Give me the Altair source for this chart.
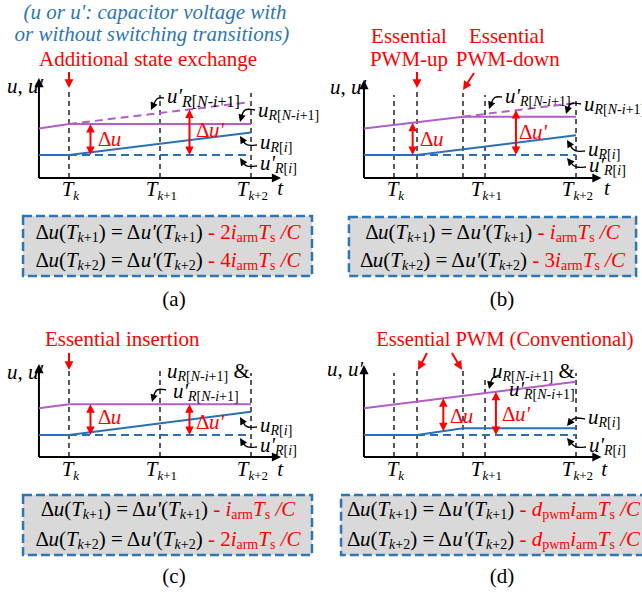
import math
import altair as alt
import pandas as pd

# ---------------- data (t in switching periods from T_k, v in voltage units) ----------------
T_TICKS = [0.0, 1.0, 2.0]
T_SUBS = ["k", "k+1", "k+2"]
ORIGIN_T = -0.33

# (a) additional state exchange
A_U_T = [-0.33, 0.0, 2.0]
A_U_V = [0.0, 0.0, 2.25]          # u_R[i]
A_UD_T = [0.0, 2.0]
A_UD_V = [0.0, 0.0]               # u'_R[i]
A_W_T = [-0.33, 0.0, 2.0]
A_W_V = [2.65, 3.1, 3.1]          # u_R[N-i+1]
A_WD_T = [0.0, 2.0]
A_WD_V = [3.1, 5.3]               # u'_R[N-i+1]
A_MARK_T = [0.0, 1.0, 2.0]
A_MARK_TOP = [6.7, 6.0, 6.2]
A_DU = [0.236, 0.0, 3.1]
A_DUP = [1.324, 0.0, 4.55]
A_COEF = ["2", "4"]

# (b) essential PWM-up / PWM-down
B_U_T = [-0.33, 0.253, 2.0]
B_U_V = [0.0, 0.0, 1.97]
B_UD_T = [0.253, 2.0]
B_UD_V = [0.0, 0.0]
B_W_T = [-0.33, 0.758, 2.0]
B_W_V = [2.65, 3.83, 3.83]
B_WD_T = [0.758, 2.0]
B_WD_V = [3.83, 5.2]
B_MARK_T = [0.0, 0.253, 0.758, 1.0, 2.0]
B_MARK_TOP = [6.0, 6.5, 6.2, 6.0, 5.6]
B_DU = [0.205, 0.0, 3.23]
B_DUP = [1.34, 0.0, 4.5]
B_COEF = ["", "3"]

# (c) essential insertion
C_U_T = [-0.33, 0.0, 2.0]
C_U_V = [0.0, 0.0, 2.33]
C_UD_T = [0.0, 2.0]
C_UD_V = [0.0, 0.0]
C_W_T = [-0.33, 0.0, 2.0]
C_W_V = [2.67, 3.07, 3.07]
C_MARK_T = [0.0, 1.0, 2.0]
C_MARK_TOP = [6.5, 6.8, 6.2]
C_DU = [0.236, 0.0, 3.07]
C_DUP = [1.324, 0.0, 3.07]
C_COEF = ["", "2"]

# (d) essential PWM (conventional)
D_U_T = [-0.33, 0.253, 0.758, 2.0]
D_U_V = [0.0, 0.0, 0.67, 0.67]
D_UD_T = [0.253, 2.0]
D_UD_V = [0.0, 0.0]
D_W_T = [-0.33, 2.0]
D_W_V = [2.67, 5.33]
D_MARK_T = [0.0, 0.253, 0.758, 1.0, 2.0]
D_MARK_TOP = [6.2, 6.5, 6.5, 5.7, 6.2]
D_DU = [0.542, 0.38, 3.67]
D_DUP = [1.12, 0.0, 4.33]

# ---------------- style ----------------
FONT = "Liberation Serif"
RED = "#FF0000"
CAPBLUE = "#2E75B6"
BLUE = "#2A70B8"
PURPLE = "#B25EC8"
BLACK = "#000000"
GREY = "#D9D9D9"
PX_T = 91.0
PX_V = 10.0
MAIN = 21
SUB = 14
TSUB = 13
SUBDY = 5
TSUBDY = 6
LSUBDY = 4.5
HEAD = "M0,0L0.75,1.5L-0.75,1.5Z"

REG = {' ': 250, '(': 333, ')': 333, '+': 564, ',': 250, '-': 333, '.': 250, '/': 278, ':': 278,
       '=': 564, '[': 333, ']': 333, '&': 778, "'": 180, 'Δ': 612,
       'A': 722, 'C': 667, 'E': 611, 'M': 889, 'N': 722, 'P': 556, 'R': 667, 'T': 611, 'W': 944,
       'a': 444, 'b': 500, 'c': 444, 'd': 500, 'e': 444, 'f': 333, 'g': 500, 'h': 500, 'i': 278,
       'k': 500, 'l': 278, 'm': 778, 'n': 500, 'o': 500, 'p': 500, 'r': 333, 's': 389, 't': 278,
       'u': 500, 'v': 500, 'w': 722, 'x': 500, 'y': 500}
ITA = {' ': 250, '(': 333, ')': 333, '+': 675, ',': 250, '-': 333, '/': 278, ':': 333, '=': 675,
       '[': 389, ']': 389, "'": 214, 'Δ': 612, 'C': 667, 'N': 667, 'R': 611, 'T': 556,
       'a': 500, 'b': 500, 'c': 444, 'd': 500, 'e': 444, 'g': 500, 'h': 500, 'i': 278, 'k': 444,
       'l': 278, 'm': 722, 'n': 500, 'o': 500, 'p': 500, 'r': 389, 's': 389, 't': 278, 'u': 500,
       'v': 444, 'w': 667, 'x': 444, 'y': 444}
for _d in "0123456789":
    REG[_d] = 500
    ITA[_d] = 500


def text_width(s, italic, size):
    tab = ITA if italic else REG
    return sum(tab.get(ch, 500) for ch in s) / 1000.0 * size


class Panel:
    def __init__(self, tdom, vdom, width, height, clip=False):
        self.tdom, self.vdom, self.width, self.height, self.clip = tdom, vdom, width, height, clip
        self.lines, self.curves, self.heads, self.texts, self.boxes = [], [], [], [], []
        self.n = 0

    def polyline(self, ts, vs, color, width, kind="solid"):
        self.n += 1
        for i, (t, v) in enumerate(zip(ts, vs)):
            self.lines.append({"t": t, "v": v, "id": self.n, "o": i, "color": color, "w": width, "kind": kind})

    def head(self, t, v, dx, dy, color, size):
        ang = math.degrees(math.atan2(dx, -dy)) % 360
        self.heads.append({"t": t, "v": v, "angle": ang, "color": color, "size": size})

    def arrow(self, t0, v0, t1, v1, color, width, size, double=False):
        dx = (t1 - t0) * PX_T
        dy = -(v1 - v0) * PX_V
        L = math.hypot(dx, dy)
        ux, uy = dx / L, dy / L
        back = 0.7 * 0.75 * math.sqrt(size)
        st, sv = t0, v0
        if double:
            st, sv = t0 + ux * back / PX_T, v0 - uy * back / PX_V
            self.head(t0, v0, -dx, -dy, color, size)
        et, ev = t1 - ux * back / PX_T, v1 + uy * back / PX_V
        self.polyline([st, et], [sv, ev], color, width)
        self.head(t1, v1, dx, dy, color, size)

    def hook(self, p0, p1, p2, color=BLACK, width=1.4, size=100):
        dx = (p2[0] - p1[0]) * PX_T
        dy = -(p2[1] - p1[1]) * PX_V
        L = math.hypot(dx, dy)
        ux, uy = dx / L, dy / L
        back = 0.7 * 0.75 * math.sqrt(size)
        e = (p2[0] - ux * back / PX_T, p2[1] + uy * back / PX_V)
        self.n += 1
        for i, (t, v) in enumerate([p0, p1, e]):
            self.curves.append({"t": t, "v": v, "id": self.n, "o": i, "color": color, "w": width})
        self.head(p2[0], p2[1], dx, dy, color, size)

    def runs(self, t, v, runs, align="left"):
        widths = [text_width(r[0], r[1], r[2]) for r in runs]
        total = sum(widths)
        x = {"left": 0.0, "center": -total / 2, "right": -total}[align]
        for r, w in zip(runs, widths):
            s, it, size, color, dy = r
            lead = len(s) - len(s.lstrip(" "))
            body = s.strip(" ")
            if body:
                off = text_width(" " * lead, it, size)
                self.texts.append({"t": t + (x + off) / PX_T, "v": v - dy / PX_V, "text": body,
                                   "size": size, "color": color, "it": it})
            x += w

    def box(self, t0, t1, v0, v1):
        self.boxes.append({"t": t0, "t2": t1, "v": v0, "v2": v1})

    def chart(self):
        def X():
            return alt.X("t:Q", scale=alt.Scale(domain=self.tdom, nice=False, zero=False), axis=None)

        def Y():
            return alt.Y("v:Q", scale=alt.Scale(domain=self.vdom, nice=False, zero=False), axis=None)

        layers = []
        if self.boxes:
            layers.append(alt.Chart(pd.DataFrame(self.boxes)).mark_rect(
                fill=GREY, stroke=CAPBLUE, strokeWidth=2.5, strokeDash=[9, 4], clip=self.clip
            ).encode(x=X(), x2="t2", y=Y(), y2="v2"))
        ldf = pd.DataFrame(self.lines)
        for kind, dash in [("grid", [5, 4]), ("dash", [8, 5]), ("solid", None)]:
            sub = ldf[ldf["kind"] == kind]
            if len(sub) == 0:
                continue
            mk = dict(clip=self.clip, strokeCap="butt")
            if dash:
                mk["strokeDash"] = dash
            layers.append(alt.Chart(sub).mark_line(**mk).encode(
                x=X(), y=Y(), detail="id:N", order="o:Q",
                color=alt.Color("color:N", scale=None),
                strokeWidth=alt.StrokeWidth("w:Q", scale=None)))
        if self.curves:
            layers.append(alt.Chart(pd.DataFrame(self.curves)).mark_line(
                interpolate="basis", clip=self.clip).encode(
                x=X(), y=Y(), detail="id:N", order="o:Q",
                color=alt.Color("color:N", scale=None),
                strokeWidth=alt.StrokeWidth("w:Q", scale=None)))
        layers.append(alt.Chart(pd.DataFrame(self.heads)).mark_point(
            shape=HEAD, filled=True, opacity=1, strokeWidth=0, clip=self.clip).encode(
            x=X(), y=Y(), angle=alt.Angle("angle:Q", scale=None),
            size=alt.Size("size:Q", scale=None), color=alt.Color("color:N", scale=None)))
        tdf = pd.DataFrame(self.texts)
        for it in [False, True]:
            sub = tdf[tdf["it"] == it].drop(columns=["it"])
            if len(sub) == 0:
                continue
            layers.append(alt.Chart(sub).mark_text(
                align="left", baseline="middle", font=FONT,
                fontStyle="italic" if it else "normal", clip=self.clip).encode(
                x=X(), y=Y(), text="text:N",
                size=alt.Size("size:Q", scale=None), color=alt.Color("color:N", scale=None)))
        return alt.layer(*layers).properties(width=self.width, height=self.height)


def u_label(prime, which, sub_size, tail=""):
    d = LSUBDY
    r = [("u'" if prime else "u", True, MAIN, BLACK, 0)]
    if which == "N":
        r += [("R", True, sub_size, BLACK, d), ("[", False, sub_size, BLACK, d),
              ("N", True, sub_size, BLACK, d), ("-", False, sub_size, BLACK, d),
              ("i", True, sub_size, BLACK, d), ("+1]", False, sub_size, BLACK, d)]
    else:
        r += [("R", True, sub_size, BLACK, d), ("[", False, sub_size, BLACK, d),
              ("i", True, sub_size, BLACK, d), ("]", False, sub_size, BLACK, d)]
    if tail:
        r.append((tail, False, MAIN, BLACK, 0))
    return r


def delta_label(prime):
    return [("Δ", False, MAIN, RED, 0), ("u'" if prime else "u", True, MAIN, RED, 0)]


def formula(idx, coef):
    b = BLACK
    r = [("Δ", False, MAIN, b, 0), ("u", True, MAIN, b, 0), ("(", False, MAIN, b, 0), ("T", True, MAIN, b, 0),
         ("k", True, SUB, b, SUBDY), ("+" + idx, False, SUB, b, SUBDY), (") = Δ", False, MAIN, b, 0),
         ("u'", True, MAIN, b, 0), ("(", False, MAIN, b, 0), ("T", True, MAIN, b, 0),
         ("k", True, SUB, b, SUBDY), ("+" + idx, False, SUB, b, SUBDY), (")", False, MAIN, b, 0),
         (" - ", False, MAIN, RED, 0)]
    if coef == "d":
        r += [("d", True, MAIN, RED, 0), ("pwm", False, SUB, RED, SUBDY)]
    elif coef:
        r += [(coef, False, MAIN, RED, 0)]
    r += [("i", True, MAIN, RED, 0), ("arm", False, SUB, RED, SUBDY), ("T", True, MAIN, RED, 0),
          ("s", False, SUB, RED, SUBDY), (" /C", True, MAIN, RED, 0)]
    return r


def common(p, mark_t, mark_top, axis_v, x_end, y_top, tick_v, t_lab, ylab):
    for t, top in zip(mark_t, mark_top):
        p.polyline([t, t], [axis_v, top], BLACK, 1.3, "grid")
    p.arrow(ORIGIN_T, axis_v, x_end, axis_v, BLACK, 2, 150)
    p.arrow(ORIGIN_T, axis_v, ORIGIN_T, y_top, BLACK, 2, 150)
    for t, s in zip(T_TICKS, T_SUBS):
        r = [("T", True, MAIN, BLACK, 0), (s[0], True, TSUB, BLACK, TSUBDY)]
        if len(s) > 1:
            r.append((s[1:], False, TSUB, BLACK, TSUBDY))
        p.runs(t + 0.015, tick_v, r, align="center")
    p.runs(t_lab[0], t_lab[1], [("t", True, MAIN, BLACK, 0)], align="center")
    p.runs(ylab[0], ylab[1], [("u", True, MAIN, BLACK, 0), (", ", False, MAIN, BLACK, 0),
                              ("u'", True, MAIN, BLACK, 0)])


# ---------------- panel (a) ----------------
pa = Panel([-0.758, 2.758], [-16.0, 15.5], 320, 315)
pa.box(-0.505, 2.67, -6.1, -12.1)
common(pa, A_MARK_T, A_MARK_TOP, -2.3, 2.33, 7.7, -3.5, (2.32, -3.4), (-0.681, 6.8))
pa.polyline(A_WD_T, A_WD_V, PURPLE, 2, "dash")
pa.polyline(A_UD_T, A_UD_V, BLUE, 2, "dash")
pa.polyline(A_W_T, A_W_V, PURPLE, 2)
pa.polyline(A_U_T, A_U_V, BLUE, 2)
pa.arrow(A_DU[0], A_DU[1], A_DU[0], A_DU[2], RED, 2, 130, double=True)
pa.arrow(A_DUP[0], A_DUP[1], A_DUP[0], A_DUP[2], RED, 2, 130, double=True)
pa.arrow(0.0, 8.3, 0.0, 6.7, RED, 2, 140)
pa.runs(0.945, 14.2, [("(u or u': capacitor voltage with", True, MAIN, CAPBLUE, 0)], align="center")
pa.runs(0.912, 12.0, [("or without switching transitions)", True, MAIN, CAPBLUE, 0)], align="center")
pa.runs(0.87, 9.5, [("Additional state exchange", False, MAIN, RED, 0)], align="center")
pa.runs(1.077, 5.8, u_label(True, "N", 16))
pa.runs(2.077, 4.4, u_label(False, "N", SUB))
pa.runs(2.099, 1.2, u_label(False, "i", SUB))
pa.runs(2.099, -0.9, u_label(True, "i", SUB))
pa.hook((1.044, 5.7), (0.967, 5.8), (0.901, 4.5))
pa.hook((2.044, 4.5), (1.923, 4.7), (1.879, 3.3))
pa.hook((2.066, 1.0), (1.945, 0.9), (1.879, 1.9))
pa.hook((2.066, -1.1), (1.945, -1.2), (1.879, -0.3))
pa.runs(0.319, 1.5, delta_label(False))
pa.runs(1.396, 2.4, delta_label(True))
pa.runs(1.088, -7.8, formula("1", A_COEF[0]), align="center")
pa.runs(1.088, -10.6, formula("2", A_COEF[1]), align="center")
pa.runs(1.154, -14.5, [("(a)", False, MAIN, BLACK, 0)], align="center")

# ---------------- panel (b) ----------------
pb = Panel([-0.813, 2.725], [-16.0, 15.5], 322, 315, clip=True)
pb.box(-0.495, 2.66, -6.2, -12.1)
common(pb, B_MARK_T, B_MARK_TOP, -2.3, 2.28, 7.5, -3.5, (2.34, -3.4), (-0.703, 6.7))
pb.polyline(B_WD_T, B_WD_V, PURPLE, 2, "dash")
pb.polyline(B_UD_T, B_UD_V, BLUE, 2, "dash")
pb.polyline(B_W_T, B_W_V, PURPLE, 2)
pb.polyline(B_U_T, B_U_V, BLUE, 2)
pb.arrow(B_DU[0], B_DU[1], B_DU[0], B_DU[2], RED, 2, 130, double=True)
pb.arrow(B_DUP[0], B_DUP[1], B_DUP[0], B_DUP[2], RED, 2, 130, double=True)
pb.arrow(0.253, 8.3, 0.253, 6.7, RED, 2, 140)
pb.arrow(0.879, 8.2, 0.758, 6.5, RED, 2, 140)
pb.runs(0.165, 11.8, [("Essential", False, MAIN, RED, 0)], align="center")
pb.runs(0.165, 9.5, [("PWM-up", False, MAIN, RED, 0)], align="center")
pb.runs(1.24, 11.8, [("Essential", False, MAIN, RED, 0)], align="center")
pb.runs(1.25, 9.5, [("PWM-down", False, MAIN, RED, 0)], align="center")
pb.runs(1.22, 5.8, u_label(True, "N", SUB))
pb.runs(2.088, 5.0, u_label(False, "N", SUB))
pb.runs(2.132, 0.5, u_label(False, "i", SUB))
pb.runs(2.143, -1.1, u_label(True, "i", SUB))
pb.hook((1.187, 5.8), (1.099, 5.9), (1.044, 4.6))
pb.hook((2.055, 5.1), (1.934, 5.3), (1.89, 4.1))
pb.hook((2.099, 0.4), (1.978, 0.3), (1.901, 1.5))
pb.hook((2.11, -1.2), (1.989, -1.3), (1.901, -0.3))
pb.runs(0.286, 1.5, delta_label(False))
pb.runs(1.374, 2.2, delta_label(True))
pb.runs(1.082, -7.8, formula("1", B_COEF[0]), align="center")
pb.runs(1.082, -10.6, formula("2", B_COEF[1]), align="center")
pb.runs(1.187, -14.5, [("(b)", False, MAIN, BLACK, 0)], align="center")

# ---------------- panel (c) ----------------
pc = Panel([-0.758, 2.758], [-16.1, 12.0], 320, 281)
pc.box(-0.505, 2.67, -6.0, -12.0)
common(pc, C_MARK_T, C_MARK_TOP, -2.2, 2.33, 7.1, -3.5, (2.32, -3.5), (-0.681, 6.2))
pc.polyline(C_UD_T, C_UD_V, BLUE, 2, "dash")
pc.polyline(C_W_T, C_W_V, PURPLE, 2)
pc.polyline(C_U_T, C_U_V, BLUE, 2)
pc.arrow(C_DU[0], C_DU[1], C_DU[0], C_DU[2], RED, 2, 130, double=True)
pc.arrow(C_DUP[0], C_DUP[1], C_DUP[0], C_DUP[2], RED, 2, 130, double=True)
pc.arrow(0.0, 8.2, 0.0, 6.5, RED, 2, 140)
pc.runs(0.585, 9.5, [("Essential insertion", False, MAIN, RED, 0)], align="center")
pc.runs(1.077, 6.3, u_label(False, "N", SUB, " &"))
pc.runs(1.143, 4.3, u_label(True, "N", SUB))
pc.runs(2.099, 0.9, u_label(False, "i", SUB))
pc.runs(2.099, -1.1, u_label(True, "i", SUB))
pc.hook((1.066, 4.5), (0.956, 4.7), (0.912, 3.3))
pc.hook((2.066, 0.8), (1.945, 0.7), (1.879, 1.8))
pc.hook((2.066, -1.2), (1.945, -1.3), (1.879, -0.3))
pc.runs(0.319, 1.7, delta_label(False))
pc.runs(1.396, 1.2, delta_label(True))
pc.runs(1.088, -7.5, formula("1", C_COEF[0]), align="center")
pc.runs(1.088, -10.5, formula("2", C_COEF[1]), align="center")
pc.runs(1.154, -14.2, [("(c)", False, MAIN, BLACK, 0)], align="center")

# ---------------- panel (d) ----------------
pdd = Panel([-0.813, 2.725], [-16.1, 12.0], 322, 281, clip=True)
pdd.box(-0.582, 2.9, -6.0, -12.0)
common(pdd, D_MARK_T, D_MARK_TOP, -2.2, 2.28, 7.0, -3.5, (2.31, -3.5), (-0.736, 6.5))
pdd.polyline(D_UD_T, D_UD_V, BLUE, 2, "dash")
pdd.polyline(D_W_T, D_W_V, PURPLE, 2)
pdd.polyline(D_U_T, D_U_V, BLUE, 2)
pdd.arrow(D_DU[0], D_DU[1], D_DU[0], D_DU[2], RED, 2, 130, double=True)
pdd.arrow(D_DUP[0], D_DUP[1], D_DUP[0], D_DUP[2], RED, 2, 130, double=True)
pdd.arrow(0.363, 8.2, 0.264, 6.5, RED, 2, 140)
pdd.arrow(0.637, 8.2, 0.747, 6.5, RED, 2, 140)
pdd.runs(1.22, 9.5, [("Essential PWM (Conventional)", False, 20.5, RED, 0)], align="center")
pdd.runs(1.077, 6.3, u_label(False, "N", SUB, " &"))
pdd.runs(1.264, 4.5, u_label(True, "N", SUB))
pdd.runs(2.132, 1.7, u_label(False, "i", SUB))
pdd.runs(2.143, -1.1, u_label(True, "i", SUB))
pdd.hook((1.165, 6.0), (1.077, 5.8), (1.044, 4.6))
pdd.hook((2.099, 1.6), (1.978, 1.8), (1.901, 0.9))
pdd.hook((2.11, -1.2), (1.989, -1.3), (1.901, -0.3))
pdd.runs(0.615, 1.85, delta_label(False))
pdd.runs(1.187, 2.0, delta_label(True))
pdd.runs(-0.516, -7.5, formula("1", "d"))
pdd.runs(-0.516, -10.5, formula("2", "d"))
pdd.runs(1.187, -14.2, [("(d)", False, MAIN, BLACK, 0)], align="center")

chart = alt.concat(pa.chart(), pb.chart(), pc.chart(), pdd.chart(),
                   columns=2, spacing=0, bounds="flush").properties(
    padding=0, background="white"
).configure_view(strokeWidth=0)

chart.save("out.html", embed_options={"renderer": "svg", "actions": False})
